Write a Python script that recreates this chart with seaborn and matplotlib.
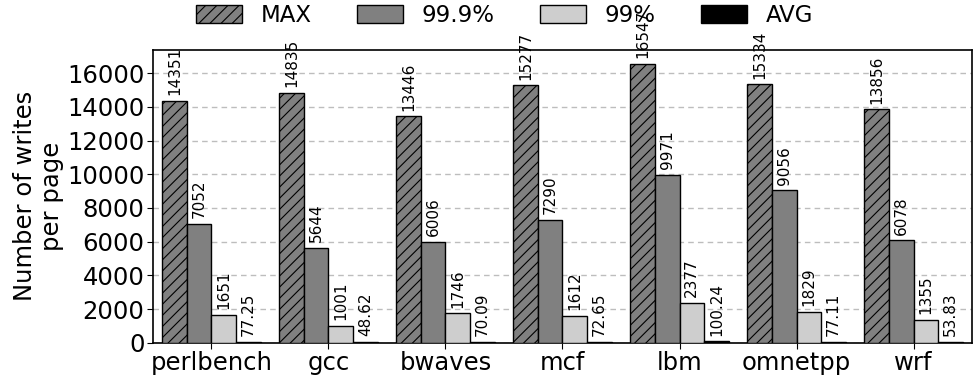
import numpy as np
import pandas as pd
import seaborn as sns
import matplotlib.pyplot as plt

# benchmark names and write statistics per page
benchmarks = ["perlbench", "gcc", "bwaves", "mcf", "lbm", "omnetpp", "wrf"]
series = ["MAX", "99.9%", "99%", "AVG"]
max_writes = [14351, 14835, 13446, 15277, 16547, 15334, 13856]
p999_writes = [7052, 5644, 6006, 7290, 9971, 9056, 6078]
p99_writes = [1651, 1001, 1746, 1612, 2377, 1829, 1355]
avg_writes = [77.25, 48.62, 70.09, 72.65, 100.24, 77.11, 53.83]

colors = ["#808080", "#808080", "#cecece", "#000000"]

values = [max_writes, p999_writes, p99_writes, avg_writes]
df = pd.DataFrame({
    "bench": benchmarks * len(series),
    "series": np.repeat(series, len(benchmarks)),
    "value": np.concatenate(values),
})

sns.set_style("ticks")
plt.rcParams["font.family"] = ["DejaVu Sans"]
plt.rcParams.update({
    "text.color": "black", "axes.labelcolor": "black",
    "xtick.color": "black", "ytick.color": "black",
    "axes.edgecolor": "black", "axes.linewidth": 1.2,
    "hatch.linewidth": 0.8,
})

fig = plt.figure(figsize=(9.74, 3.78), dpi=100)
ax = fig.add_axes([0.157, 0.093, 0.841, 0.775])

sns.barplot(data=df, x="bench", y="value", hue="series", order=benchmarks,
            hue_order=series, palette=colors, saturation=1, width=0.84,
            edgecolor="black", linewidth=1, errorbar=None, ax=ax, zorder=3)

for bar in ax.containers[0]:
    bar.set_hatch("///")

# value labels on top of each bar
for cont, vals in zip(ax.containers, values):
    if vals is avg_writes:
        labels = [f"{v:.2f}" for v in vals]
    else:
        labels = [f"{v:d}" for v in vals]
    ax.bar_label(cont, labels=labels, rotation=90, padding=4, fontsize=11)

ax.set_yticks(range(0, 16001, 2000))
ax.set_ylim(0, 17374)
ax.set_xlim(-0.5, 6.5)
ax.yaxis.grid(True, linestyle=(0, (4, 3)), color="#bdbdbd", linewidth=1, zorder=0)
ax.set_axisbelow(True)
ax.set_xlabel("")
ax.set_ylabel("Number of writes\nper page", fontsize=17.5, labelpad=2)
ax.tick_params(axis="both", labelsize=17.5, pad=2, length=4)

if ax.get_legend() is not None:
    ax.get_legend().remove()
fig.legend(handles=ax.containers, labels=series, loc="upper center",
           bbox_to_anchor=(0.518, 1.045), ncol=4, frameon=False, fontsize=16.5,
           handlelength=2.0, handleheight=0.85, handletextpad=0.8,
           columnspacing=2.0)

fig.savefig("out.png", dpi=100)
